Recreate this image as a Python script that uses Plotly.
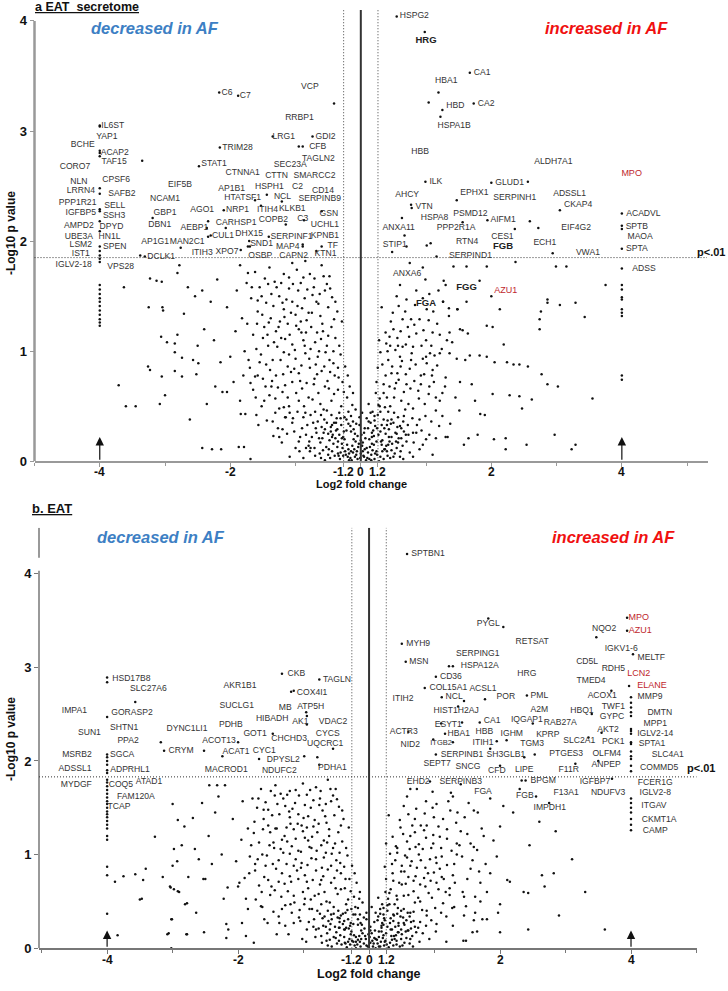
import plotly.graph_objects as go

FONT = "Liberation Sans, Arial, sans-serif"
T = 0.263  # log2(1.2): position of the +-1.2 fold-change threshold

# ================= panel a : EAT secretome =================
a_labels = [
    ("IL6ST", -3.80, 3.05), ("YAP1", -3.89, 2.95), ("BCHE", -4.26, 2.87), ("ACAP2", -3.77, 2.80),
    ("TAF15", -3.78, 2.72), ("CORO7", -4.38, 2.67), ("CPSF6", -3.75, 2.56), ("NLN", -4.32, 2.54),
    ("LRRN4", -4.29, 2.46), ("SAFB2", -3.66, 2.43), ("PPP1R21", -4.34, 2.35), ("SELL", -3.77, 2.32),
    ("IGFBP5", -4.29, 2.26), ("SSH3", -3.78, 2.23), ("AMPD2", -4.32, 2.14), ("DPYD", -3.82, 2.13),
    ("UBE3A", -4.32, 2.04), ("HN1L", -3.85, 2.04), ("LSM2", -4.29, 1.965), ("SPEN", -3.77, 1.95),
    ("IST1", -4.29, 1.885), ("IGLV2-18", -4.40, 1.78), ("VPS28", -3.68, 1.77),
    ("EIF5B", -2.77, 2.51), ("NCAM1", -3.00, 2.38), ("GBP1", -3.00, 2.26), ("DBN1", -3.08, 2.15),
    ("AP1G1", -3.15, 1.99), ("DCLK1", -3.06, 1.86), ("MAN2C1", -2.66, 1.99), ("AGO1", -2.43, 2.28),
    ("AEBP1", -2.55, 2.12), ("ITIH3", -2.43, 1.89), ("STAT1", -2.25, 2.70), ("C6", -2.05, 3.35),
    ("C7", -1.77, 3.32), ("VCP", -0.78, 3.40), ("RRBP1", -0.94, 3.12), ("LRG1", -1.18, 2.95),
    ("GDI2", -0.54, 2.95), ("CFB", -0.66, 2.86), ("TRIM28", -1.89, 2.85), ("TAGLN2", -0.65, 2.75),
    ("SEC23A", -1.08, 2.69), ("CTNNA1", -1.81, 2.62), ("CTTN", -1.29, 2.59), ("SMARCC2", -0.71, 2.59),
    ("AP1B1", -1.98, 2.47), ("HSPH1", -1.40, 2.49), ("C2", -0.97, 2.49), ("CD14", -0.58, 2.46),
    ("HTATSF1", -1.81, 2.39), ("NCL", -1.20, 2.40), ("SERPINB9", -0.63, 2.38), ("NRP1", -1.89, 2.28),
    ("ITIH4", -1.43, 2.28), ("KLKB1", -1.05, 2.29), ("GSN", -0.49, 2.25), ("CARHSP1", -1.91, 2.17),
    ("COPB2", -1.34, 2.19), ("C3", -0.89, 2.20), ("UCHL1", -0.55, 2.15), ("CUL1", -2.11, 2.05),
    ("DHX15", -1.71, 2.07), ("SERPINF1", -1.06, 2.035), ("KPNB1", -0.55, 2.05), ("SND1", -1.52, 1.975),
    ("MAP4", -1.12, 1.945), ("TF", -0.43, 1.96), ("XPO7", -2.05, 1.90), ("OSBP", -1.54, 1.87),
    ("CAPN2", -1.03, 1.87), ("KTN1", -0.54, 1.88),
    ("HSPG2", 0.82, 4.05), ("HRG", 1.00, 3.82), ("CA1", 1.86, 3.53), ("HBA1", 1.31, 3.46),
    ("HBD", 1.45, 3.23), ("CA2", 1.92, 3.25), ("HSPA1B", 1.43, 3.05), ("HBB", 0.91, 2.81),
    ("ALDH7A1", 2.95, 2.72), ("MPO", 4.15, 2.61), ("ILK", 1.15, 2.54), ("GLUD1", 2.28, 2.53),
    ("AHCY", 0.71, 2.42), ("EPHX1", 1.74, 2.44), ("SERPINH1", 2.36, 2.39), ("ADSSL1", 3.20, 2.43),
    ("CKAP4", 3.33, 2.33), ("VTN", 0.97, 2.31), ("HSPA8", 1.13, 2.21), ("PSMD12", 1.68, 2.25),
    ("AIFM1", 2.18, 2.19), ("ACADVL", 4.33, 2.25), ("ANXA11", 0.58, 2.12), ("PPP2R1A", 1.46, 2.12),
    ("EIF4G2", 3.30, 2.12), ("SPTB", 4.23, 2.13), ("STIP1", 0.52, 1.97), ("RTN4", 1.63, 1.99),
    ("CES1", 2.17, 2.04), ("FGB", 2.18, 1.95), ("ECH1", 2.82, 1.98), ("MAOA", 4.28, 2.04),
    ("SPTA", 4.23, 1.93), ("VWA1", 3.48, 1.89), ("SERPIND1", 1.68, 1.87), ("ADSS", 4.34, 1.75),
    ("ANXA6", 0.71, 1.70), ("FGG", 1.62, 1.58), ("AZU1", 2.22, 1.55), ("FGA", 1.00, 1.43),
]
a_bold = ["HRG", "FGB", "FGG", "FGA"]
a_red = ["MPO", "AZU1"]

a_col_neg4 = [3.05, 3.04, 2.82, 2.80, 2.77, 2.48, 2.43, 2.29, 2.27, 2.18, 2.09, 1.95, 1.91, 1.87,
              1.84, 1.81, 1.60, 1.56, 1.52, 1.48, 1.45, 1.41, 1.37, 1.33, 1.29, 1.26, 1.23]
a_col_pos4 = [2.25, 2.14, 2.11, 1.93, 1.75, 1.60, 1.56, 1.49, 1.47, 1.38, 1.35, 1.32, 0.78, 0.74]
a_sig = [(-3.35, 2.73), (-3.19, 2.21), (-3.38, 1.87), (-3.31, 1.86), (-2.34, 2.18), (-2.36, 2.12),
         (-2.30, 2.05), (-2.48, 2.68), (-2.17, 3.35), (-1.88, 3.32), (-2.16, 2.85), (-0.41, 3.25),
         (-1.35, 2.95), (-0.74, 2.95), (-0.95, 2.86), (-0.89, 2.86), (-2.10, 2.28), (-1.84, 1.92),
         (-1.73, 1.95), (-1.71, 2.00), (-1.44, 2.42), (-1.21, 2.36), (-0.87, 2.19), (-0.60, 2.27),
         (-1.53, 2.32), (-1.41, 2.04), (-0.89, 1.97), (-0.89, 1.95), (-0.60, 1.95), (-0.68, 1.91),
         (-1.70, 1.95), (-2.76, 1.94), (-2.07, 2.12), (-2.34, 2.04), (-1.62, 2.37), (-1.15, 2.15),
         (0.55, 4.04), (0.98, 3.90), (1.67, 3.53), (1.19, 3.35), (1.25, 3.19), (1.22, 3.13),
         (1.73, 3.25), (1.04, 3.26), (0.99, 2.54), (2.00, 2.53), (2.56, 2.54), (1.47, 2.37),
         (0.78, 2.30), (0.77, 2.33), (1.94, 2.19), (2.59, 2.18), (2.72, 2.12), (2.36, 2.11),
         (3.05, 2.28), (2.94, 1.89), (1.56, 2.17), (1.01, 1.96), (1.07, 1.98), (0.67, 2.05),
         (0.70, 1.95), (0.63, 2.21), (0.48, 1.90), (1.16, 1.86)]
a_core = [(-0.05, 0.02), (0.04, 0.05), (-0.12, 0.08), (0.10, 0.03), (0.18, 0.10), (-0.20, 0.04),
          (0.25, 0.06), (-0.28, 0.12), (0.02, 0.14), (-0.08, 0.18), (0.13, 0.20), (0.32, 0.15),
          (-0.35, 0.07), (-0.42, 0.16), (0.40, 0.09), (0.47, 0.22), (-0.50, 0.25), (-0.15, 0.27),
          (0.06, 0.30), (0.22, 0.32), (-0.30, 0.33), (0.55, 0.12), (-0.58, 0.10), (0.62, 0.30),
          (-0.66, 0.36), (0.35, 0.38), (-0.02, 0.40), (-0.45, 0.42), (0.15, 0.44), (0.70, 0.18),
          (-0.75, 0.22), (0.08, 0.01), (-0.18, 0.01), (0.28, 0.00), (-0.32, 0.02), (0.45, 0.03),
          (-0.55, 0.01), (0.60, 0.04), (-0.10, 0.11), (0.20, 0.15), (-0.25, 0.20), (0.38, 0.25),
          (-0.38, 0.28), (0.50, 0.35), (-0.60, 0.31), (0.12, 0.36), (-0.22, 0.38), (0.26, 0.42),
          (-0.70, 0.05), (0.75, 0.08), (-0.05, 0.23), (0.03, 0.09), (-0.13, 0.14), (0.16, 0.06),
          (-0.40, 0.05), (0.33, 0.19), (-0.48, 0.19), (0.58, 0.21), (-0.80, 0.14), (0.85, 0.26),
          (-0.90, 0.30), (0.90, 0.11), (-0.02, 0.33), (0.42, 0.45), (-0.52, 0.46), (0.66, 0.41),
          (-0.85, 0.44), (-1.00, 0.12), (1.00, 0.20), (-1.05, 0.35), (-0.07, 0.06), (0.09, 0.12),
          (-0.16, 0.03), (0.21, 0.02), (-0.24, 0.09), (0.30, 0.04), (-0.36, 0.13), (0.37, 0.11),
          (-0.44, 0.09), (0.52, 0.07), (-0.62, 0.17), (0.64, 0.14), (-0.11, 0.29), (0.17, 0.26),
          (-0.33, 0.24), (0.43, 0.29), (-0.56, 0.38), (0.57, 0.40), (-0.19, 0.45), (0.29, 0.50),
          (0.00, 0.07), (-0.03, 0.16), (0.07, 0.21), (0.11, 0.08), (-0.09, 0.04), (-0.21, 0.15),
          (0.24, 0.18), (0.05, 0.26), (-0.27, 0.05), (0.35, 0.02), (-0.47, 0.03), (0.48, 0.16),
          (-0.68, 0.26), (0.72, 0.33), (-0.78, 0.09), (0.80, 0.04), (-0.95, 0.18), (0.95, 0.15),
          (-0.88, 0.03), (1.10, 0.06)]
a_left = [(-0.30, 0.50), (-0.45, 0.55), (-0.62, 0.52), (-0.80, 0.58), (-0.95, 0.55), (-1.10, 0.50),
          (-1.25, 0.48), (-0.35, 0.65), (-0.55, 0.68), (-0.72, 0.70), (-0.90, 0.66), (-1.05, 0.72),
          (-1.20, 0.63), (-1.40, 0.60), (-0.40, 0.78), (-0.60, 0.82), (-0.78, 0.85), (-0.95, 0.80),
          (-1.12, 0.86), (-1.30, 0.78), (-1.50, 0.75), (-0.48, 0.92), (-0.66, 0.95), (-0.85, 0.98),
          (-1.00, 0.93), (-1.18, 0.99), (-1.35, 0.92), (-1.55, 0.90), (-1.70, 0.85), (-0.52, 1.05),
          (-0.70, 1.08), (-0.88, 1.10), (-1.05, 1.06), (-1.22, 1.12), (-1.42, 1.05), (-1.60, 1.02),
          (-1.78, 1.00), (-0.58, 1.18), (-0.76, 1.22), (-0.95, 1.20), (-1.12, 1.25), (-1.30, 1.18),
          (-1.48, 1.22), (-1.65, 1.15), (-0.62, 1.32), (-0.80, 1.35), (-1.00, 1.33), (-1.18, 1.38),
          (-1.38, 1.30), (-1.58, 1.36), (-1.82, 1.30), (-0.68, 1.45), (-0.86, 1.48), (-1.05, 1.45),
          (-1.25, 1.50), (-1.45, 1.44), (-1.68, 1.48), (-0.72, 1.58), (-0.92, 1.62), (-1.10, 1.57),
          (-1.32, 1.63), (-1.55, 1.58), (-1.90, 1.55), (-0.78, 1.70), (-0.98, 1.74), (-1.18, 1.70),
          (-1.40, 1.76), (-1.62, 1.72), (-0.60, 1.78), (-0.85, 1.82), (-1.05, 1.80), (-0.25, 0.40),
          (-0.38, 0.35), (-0.70, 0.45), (-1.15, 0.40), (-1.35, 0.36), (-1.60, 0.42), (-1.85, 0.55),
          (-1.95, 0.72), (-2.00, 0.95), (-1.92, 1.18), (-2.05, 1.40), (-1.75, 1.62), (-0.50, 1.40),
          (-0.45, 1.22), (-0.42, 1.00), (-0.35, 0.85), (-0.28, 0.72), (-0.55, 1.55), (-0.48, 1.68),
          (-1.48, 0.55), (-1.65, 0.65), (-1.80, 0.78), (-0.88, 0.40), (-1.02, 0.27), (-1.25, 0.22),
          (-0.65, 0.62), (-0.97, 1.41), (-1.28, 1.04), (-1.69, 0.71), (-1.62, 0.77), (-1.37, 0.68),
          (-1.27, 0.30), (-1.20, 0.29), (-1.16, 0.40), (-1.09, 0.44), (-0.84, 0.12), (-0.77, 0.12),
          (-1.34, 0.23), (-1.09, 0.04), (-1.69, 0.02)]
a_right = [(0.30, 0.45), (0.45, 0.50), (0.62, 0.55), (0.80, 0.48), (0.98, 0.52), (1.15, 0.46),
           (0.35, 0.62), (0.52, 0.66), (0.70, 0.70), (0.88, 0.64), (1.05, 0.68), (1.25, 0.62),
           (1.45, 0.58), (0.38, 0.78), (0.56, 0.80), (0.75, 0.84), (0.92, 0.78), (1.10, 0.83),
           (1.30, 0.76), (1.52, 0.72), (0.42, 0.92), (0.60, 0.95), (0.78, 0.98), (0.95, 0.93),
           (1.13, 0.96), (1.36, 0.98), (1.60, 0.92), (0.45, 1.05), (0.64, 1.04), (0.80, 1.04),
           (1.00, 1.10), (1.21, 1.15), (1.40, 1.08), (0.38, 1.17), (0.50, 1.20), (0.72, 1.22),
           (0.90, 1.29), (1.10, 1.17), (1.35, 1.32), (1.52, 1.20), (0.49, 1.35), (0.64, 1.29),
           (0.77, 1.29), (1.01, 1.38), (1.26, 1.45), (1.48, 1.38), (1.56, 1.19), (0.55, 1.50),
           (0.70, 1.47), (0.85, 1.55), (1.05, 1.52), (1.30, 1.60), (1.62, 1.45), (0.60, 1.60),
           (0.99, 1.65), (1.27, 1.64), (0.95, 1.76), (0.75, 1.80), (1.42, 1.77), (1.62, 1.77),
           (0.25, 0.30), (0.40, 0.33), (0.65, 0.36), (0.90, 0.38), (1.20, 0.32), (0.55, 0.25),
           (0.80, 0.26), (1.05, 0.24), (1.30, 0.22), (0.32, 1.40), (0.28, 1.10), (0.26, 0.85),
           (1.37, 0.34), (1.51, 0.46), (1.15, 0.21), (1.33, 0.22), (1.58, 0.15), (1.65, 0.21),
           (1.79, 0.24), (0.57, 1.05), (0.44, 1.13), (1.47, 0.93), (1.36, 1.17), (1.21, 0.98),
           (1.06, 0.98)]
a_outer = [(-3.63, 1.58), (-3.23, 1.66), (-3.13, 1.64), (-3.05, 1.63), (-3.25, 1.40), (-3.04, 1.40),
           (-3.03, 1.37), (-2.71, 1.34), (-3.06, 1.13), (-2.97, 1.08), (-2.81, 1.15), (-2.85, 1.07),
           (-2.85, 0.99), (-2.74, 0.94), (-2.57, 0.92), (-2.49, 0.89), (-3.26, 0.86), (-3.23, 0.83),
           (-3.05, 0.77), (-2.85, 0.82), (-2.74, 0.77), (-2.52, 0.79), (-3.71, 0.69), (-3.00, 0.60),
           (-3.60, 0.50), (-3.45, 0.50), (-3.08, 0.52), (-2.62, 0.38), (-2.65, 1.58), (-2.54, 1.50),
           (-2.78, 1.78), (-2.81, 1.71), (-2.43, 0.12), (-2.28, 0.11), (-2.14, 0.11), (-1.87, 0.13),
           (-1.79, 0.13), (-2.36, 0.52), (-2.23, 0.68), (-2.12, 0.63), (-2.05, 0.63), (-1.84, 0.43),
           (-1.77, 0.43), (-1.52, 0.50), (-2.40, 1.20), (-2.30, 1.45), (-2.20, 1.65), (-2.50, 1.05),
           (-2.15, 0.90), (-2.25, 1.10), (-2.43, 1.55), (-1.85, 1.78), (-1.73, 1.71),
           (1.67, 0.96), (1.82, 0.96), (1.93, 0.95), (1.93, 1.23), (2.02, 1.22), (2.05, 0.90),
           (2.24, 0.90), (2.34, 0.88), (2.43, 0.88), (2.56, 0.86), (2.77, 0.79), (2.86, 0.70),
           (3.02, 0.68), (3.55, 0.57), (2.02, 0.61), (2.28, 0.60), (2.43, 0.59), (2.62, 0.56),
           (2.13, 1.38), (2.86, 1.47), (2.86, 1.44), (3.05, 1.42), (3.29, 1.44), (3.75, 1.60),
           (3.43, 1.31), (2.76, 1.36), (2.74, 1.29), (2.74, 1.20), (2.19, 1.06), (1.82, 1.64),
           (1.93, 1.77), (2.37, 1.81), (2.99, 1.77), (3.15, 1.77), (2.47, 0.48), (1.83, 0.43),
           (1.90, 0.42), (2.04, 0.20), (2.22, 0.21), (2.22, 0.11), (2.54, 0.15), (2.97, 0.24),
           (3.29, 0.15), (3.23, 0.11), (1.70, 0.70), (1.75, 0.55), (1.64, 1.16), (1.48, 1.38),
           (1.35, 1.39), (1.26, 1.45), (2.00, 1.50)]
a_fill = [(-0.21, 0.58), (-0.33, 0.44), (-0.41, 0.61), (-0.51, 0.73), (-0.57, 0.47), (-0.67, 0.79),
          (-0.74, 0.56), (-0.83, 0.71), (-0.91, 0.87), (-0.99, 0.62), (-1.07, 0.81), (-1.16, 0.69),
          (-1.23, 0.92), (-1.31, 0.57), (-1.39, 0.83), (-1.46, 0.68), (-1.53, 0.97), (-1.61, 0.58),
          (-0.24, 0.86), (-0.31, 0.97), (-0.39, 1.12), (-0.47, 0.81), (-0.54, 0.99), (-0.61, 1.11),
          (-0.69, 0.88), (-0.77, 1.02), (-0.84, 1.17), (-0.92, 1.27), (-1.01, 1.01), (-1.09, 1.15),
          (-1.17, 1.31), (-1.26, 1.22), (-1.34, 1.41), (-1.43, 1.15), (-1.51, 1.33), (-1.59, 1.25),
          (-0.29, 1.27), (-0.36, 1.36), (-0.44, 1.49), (-0.52, 1.61), (-0.63, 1.52), (-0.71, 1.66),
          (-0.82, 1.56), (-0.90, 1.39), (-1.04, 1.61), (-1.14, 1.47), (-1.22, 1.62), (-1.37, 1.52),
          (-1.47, 1.66), (-1.58, 1.46), (-0.27, 0.22), (-0.46, 0.31), (-0.64, 0.21), (-0.82, 0.33),
          (-0.97, 0.45), (-1.12, 0.58), (-1.21, 0.17), (-1.31, 0.44), (-1.44, 0.37), (-1.57, 0.33),
          (-0.13, 0.51), (-0.17, 0.68), (-0.19, 0.34), (-0.08, 0.47), (-0.35, 0.18), (-0.55, 0.29),
          (-0.73, 0.35), (-0.79, 0.18), (-0.94, 0.09), (-1.13, 0.25),
          (0.21, 0.41), (0.29, 0.57), (0.37, 0.49), (0.44, 0.68), (0.51, 0.58), (0.58, 0.74),
          (0.66, 0.63), (0.73, 0.52), (0.82, 0.73), (0.89, 0.57), (0.97, 0.79), (1.04, 0.61),
          (1.12, 0.72), (1.21, 0.55), (1.29, 0.68), (0.24, 0.72), (0.33, 0.88), (0.41, 1.00),
          (0.48, 0.86), (0.56, 1.12), (0.63, 0.91), (0.69, 1.06), (0.77, 0.92), (0.85, 1.16),
          (0.93, 1.05), (1.01, 0.89), (1.08, 1.05), (1.17, 1.25), (1.24, 1.02), (1.32, 1.10),
          (0.46, 1.27), (0.58, 1.41), (0.68, 1.36), (0.83, 1.42), (0.95, 1.48), (1.11, 1.36),
          (1.19, 1.55), (0.31, 0.18), (0.42, 0.15), (0.60, 0.32), (0.73, 0.24), (0.86, 0.33),
          (0.99, 0.41), (1.08, 0.36), (1.25, 0.41), (0.47, 0.38), (0.20, 0.23), (0.15, 0.35),
          (0.12, 0.52), (0.68, 0.47),
          (-0.06, 0.09), (0.03, 0.17), (-0.11, 0.20), (0.14, 0.13), (-0.19, 0.11), (0.19, 0.28),
          (-0.29, 0.16), (0.27, 0.24), (-0.39, 0.21), (0.36, 0.30), (-0.46, 0.27), (0.44, 0.18),
          (-0.53, 0.13), (0.53, 0.26), (-0.63, 0.07), (0.61, 0.09), (-0.01, 0.03), (0.05, 0.04),
          (-0.14, 0.01), (0.16, 0.01), (-0.23, 0.06), (0.24, 0.09), (-0.31, 0.08), (0.41, 0.05),
          (-0.50, 0.06), (0.50, 0.04), (0.01, 0.24), (-0.07, 0.34), (0.09, 0.39), (-0.16, 0.32),
          (0.21, 0.37), (-0.37, 0.39), (0.32, 0.33), (-0.44, 0.33), (0.56, 0.31), (-0.71, 0.12),
          (0.69, 0.24), (-0.59, 0.21), (0.81, 0.17), (-0.84, 0.24)]
a_fill2 = [(-0.26, 0.63), (-0.34, 0.76), (-0.42, 0.89), (-0.49, 0.66), (-0.56, 0.86), (-0.64, 1.00),
           (-0.71, 0.75), (-0.79, 0.93), (-0.86, 1.05), (-0.93, 0.73), (-1.02, 0.84), (-1.10, 0.97),
           (-1.19, 0.79), (-1.27, 0.67), (-1.36, 0.73), (-1.45, 0.88), (-0.33, 1.05), (-0.41, 1.29),
           (-0.50, 1.14), (-0.59, 1.25), (-0.67, 1.17), (-0.75, 1.35), (-0.83, 1.28), (-0.91, 1.17),
           (-0.99, 1.23), (-1.07, 1.35), (-1.16, 1.11), (-1.24, 1.27), (-1.33, 1.08), (-1.41, 1.26),
           (-1.50, 1.12), (-0.39, 1.45), (-0.47, 1.57), (-0.57, 1.68), (-0.65, 1.43), (-0.74, 1.51),
           (-0.88, 1.67), (-0.96, 1.55), (-1.10, 1.67), (-1.20, 1.44), (-1.29, 1.58), (-1.42, 1.61),
           (-1.52, 1.50), (-1.67, 1.58), (-1.74, 1.25), (-1.72, 0.92), (-1.58, 0.78), (-0.22, 0.28),
           (-0.31, 0.39), (-0.43, 0.24), (-0.52, 0.35), (-0.61, 0.42), (-0.69, 0.30), (-0.77, 0.42),
           (-0.87, 0.50), (-0.93, 0.22), (-1.04, 0.39), (-1.18, 0.49), (-0.15, 0.41), (-0.12, 0.62),
           (-0.20, 0.78),
           (0.18, 0.45), (0.23, 0.62), (0.27, 0.51), (0.35, 0.70), (0.40, 0.58), (0.47, 0.80),
           (0.54, 0.71), (0.61, 0.86), (0.69, 0.79), (0.76, 0.66), (0.84, 0.88), (0.92, 0.70),
           (1.00, 0.95), (1.09, 0.78), (1.17, 0.87), (0.30, 0.99), (0.39, 1.07), (0.53, 1.01),
           (0.61, 1.18), (0.74, 1.13), (0.82, 1.24), (0.96, 1.19), (1.04, 1.28), (0.43, 0.22),
           (0.51, 0.44), (0.57, 0.17), (0.66, 0.27), (0.79, 0.39), (0.93, 0.28), (1.15, 0.58),
           (0.36, 0.11), (0.17, 0.16),
           (-0.04, 0.13), (0.06, 0.11), (-0.09, 0.25), (0.11, 0.30), (-0.18, 0.07), (0.22, 0.07),
           (-0.26, 0.27), (0.30, 0.27), (-0.34, 0.05), (0.39, 0.14), (-0.41, 0.35), (0.46, 0.34),
           (-0.49, 0.11), (0.54, 0.18), (-0.57, 0.26), (0.62, 0.21), (0.00, 0.19), (-0.15, 0.09),
           (0.17, 0.22), (-0.29, 0.21), (0.33, 0.09), (-0.44, 0.22), (0.47, 0.10), (-0.61, 0.03),
           (0.65, 0.02), (-0.12, 0.36), (0.13, 0.02), (-0.36, 0.29), (0.41, 0.37), (0.02, 0.44)]

# ================= panel b : EAT =================
b_labels = [
    ("HSD17B8", -3.63, 2.88), ("SLC27A6", -3.37, 2.77), ("IMPA1", -4.50, 2.53), ("GORASP2", -3.62, 2.51),
    ("SUN1", -4.27, 2.30), ("SHTN1", -3.74, 2.35), ("PPA2", -3.68, 2.21), ("MSRB2", -4.46, 2.07),
    ("SGCA", -3.77, 2.07), ("ADSSL1", -4.49, 1.92), ("ADPRHL1", -3.65, 1.91), ("MYDGF", -4.47, 1.75),
    ("COQ5", -3.79, 1.74), ("ATAD1", -3.36, 1.78), ("FAM120A", -3.56, 1.62), ("TCAP", -3.82, 1.51),
    ("DYNC1LI1", -2.78, 2.34), ("CRYM", -2.87, 2.11), ("ACOT13", -2.29, 2.21), ("ACAT1", -2.03, 2.10),
    ("MACROD1", -2.18, 1.90), ("AKR1B1", -1.97, 2.80), ("SUCLG1", -2.02, 2.59), ("PDHB", -2.11, 2.39),
    ("GOT1", -1.74, 2.29), ("CYC1", -1.60, 2.11), ("DPYSL2", -1.31, 2.01), ("NDUFC2", -1.37, 1.89),
    ("CKB", -1.11, 2.93), ("TAGLN", -0.49, 2.87), ("COX4I1", -0.87, 2.73), ("MB", -1.28, 2.57),
    ("ATP5H", -0.89, 2.58), ("HIBADH", -1.48, 2.45), ("AK1", -1.05, 2.42), ("VDAC2", -0.55, 2.42),
    ("CHCHD3", -1.22, 2.24), ("CYCS", -0.63, 2.29), ("UQCRC1", -0.67, 2.18), ("PDHA1", -0.56, 1.93),
    ("SPTBN1", 0.90, 4.21), ("MYH9", 0.75, 3.25), ("MSN", 0.76, 3.06), ("ITIH2", 0.52, 2.66),
    ("ACTR3", 0.53, 2.31), ("NID2", 0.63, 2.17), ("EHD2", 0.75, 1.78), ("PYGL", 1.82, 3.46),
    ("NQO2", 3.59, 3.41), ("MPO", 4.12, 3.53), ("AZU1", 4.14, 3.39), ("RETSAT", 2.49, 3.27),
    ("IGKV1-6", 3.85, 3.20), ("SERPING1", 1.66, 3.14), ("MELTF", 4.31, 3.10), ("CD5L", 3.33, 3.06),
    ("HSPA12A", 1.69, 3.01), ("RDH5", 3.73, 2.98), ("LCN2", 4.12, 2.93), ("HRG", 2.41, 2.93),
    ("CD36", 1.25, 2.90), ("TMED4", 3.39, 2.85), ("ELANE", 4.32, 2.80), ("COL15A1", 1.21, 2.78),
    ("ACSL1", 1.74, 2.77), ("ACOX1", 3.56, 2.70), ("MMP9", 4.29, 2.68), ("NCL", 1.30, 2.68),
    ("POR", 2.09, 2.68), ("PML", 2.60, 2.70), ("TWF1", 3.73, 2.58), ("HIST1H2AJ", 1.33, 2.53),
    ("A2M", 2.60, 2.55), ("HBQ1", 3.25, 2.53), ("DMTN", 4.44, 2.51), ("GYPC", 3.71, 2.47),
    ("ESYT1", 1.21, 2.38), ("CA1", 1.88, 2.43), ("IQGAP1", 2.41, 2.44), ("RAB27A", 2.92, 2.41),
    ("MPP1", 4.37, 2.40), ("HBB", 1.76, 2.31), ("AKT2", 3.65, 2.33), ("HBA1", 1.37, 2.29),
    ("IGHM", 2.18, 2.29), ("KPRP", 2.73, 2.28), ("IGLV2-14", 4.37, 2.29), ("ITGB2", 1.10, 2.19),
    ("ITIH1", 1.74, 2.19), ("TGM3", 2.49, 2.18), ("SLC2A1", 3.21, 2.21), ("PCK1", 3.73, 2.20),
    ("SPTA1", 4.32, 2.18), ("SERPINB1", 1.42, 2.07), ("SH3GLB1", 2.09, 2.07), ("PTGES3", 3.01, 2.08),
    ("OLFM4", 3.63, 2.08), ("SLC4A1", 4.56, 2.06), ("SEPT7", 1.04, 1.97), ("SNCG", 1.51, 1.94),
    ("CFD", 1.95, 1.89), ("LIPE", 2.37, 1.91), ("F11R", 3.05, 1.90), ("ANPEP", 3.62, 1.96),
    ("COMMD5", 4.43, 1.93), ("SERPINB3", 1.40, 1.78), ("BPGM", 2.66, 1.79), ("IGFBP7", 3.45, 1.78),
    ("FCER1G", 4.37, 1.77), ("FGA", 1.74, 1.67), ("FGB", 2.38, 1.63), ("F13A1", 3.01, 1.66),
    ("NDUFV3", 3.65, 1.66), ("IGLV2-8", 4.37, 1.66), ("IMPDH1", 2.76, 1.50), ("ITGAV", 4.35, 1.52),
    ("CKMT1A", 4.43, 1.37), ("CAMP", 4.37, 1.25),
]
b_red = ["MPO", "AZU1", "LCN2", "ELANE"]
b_small = ["ITGB2"]

b_col_neg4 = [2.89, 2.84, 2.47, 2.07, 2.04, 2.00, 1.96, 1.90, 1.87, 1.80, 1.77, 1.73, 1.69, 1.65,
              1.61, 1.57, 1.54, 1.50, 1.46, 1.43, 1.40, 1.36, 1.32, 1.28, 1.20, 1.16, 0.87, 0.78, 0.37]
b_col_pos4 = [2.68, 2.62, 2.57, 2.52, 2.48, 2.34, 2.32, 2.29, 2.20, 2.18, 2.10, 2.05, 2.02, 1.95,
              1.89, 1.60, 1.55, 1.50, 1.45, 1.38, 1.32, 1.26]
b_sig = [(-3.57, 2.63), (-3.18, 2.20), (-3.13, 2.11), (-2.52, 2.11), (-2.44, 1.74), (-2.32, 1.74),
         (-2.20, 1.74), (-1.33, 2.93), (-0.76, 2.87), (-1.19, 2.74), (-1.15, 2.75), (-0.96, 2.52),
         (-0.95, 2.48), (-0.95, 2.39), (-1.47, 2.29), (-0.55, 2.13), (-1.68, 2.02), (-0.99, 2.05),
         (-0.79, 2.04), (-0.76, 1.96), (-2.24, 2.05), (-2.00, 2.20),
         (0.58, 4.21), (0.50, 3.25), (0.56, 3.06), (2.05, 3.43), (1.82, 3.52), (3.47, 3.32),
         (3.94, 3.53), (3.94, 3.39), (4.03, 3.14), (3.97, 2.80), (1.22, 3.01), (1.28, 3.01),
         (1.02, 2.90), (0.85, 2.78), (1.11, 2.68), (2.41, 2.70), (1.77, 2.66), (1.45, 2.64),
         (1.36, 2.58), (1.42, 2.41), (1.69, 2.41), (1.16, 2.29), (1.95, 2.21), (1.28, 2.20),
         (1.02, 2.07), (2.37, 2.04), (2.53, 2.07), (1.85, 2.13), (0.98, 2.23), (0.60, 2.31),
         (3.15, 1.97), (3.71, 1.81), (0.63, 1.70), (2.33, 1.79), (2.39, 1.79), (1.10, 2.40),
         (2.50, 2.40), (3.40, 2.50), (3.55, 2.30), (3.35, 2.25), (2.10, 2.22), (2.00, 1.95),
         (3.50, 2.00), (3.70, 2.75)]
b_core = [(-0.04, 0.03), (0.06, 0.02), (-0.14, 0.07), (0.13, 0.05), (0.21, 0.11), (-0.22, 0.03),
          (0.27, 0.04), (-0.30, 0.10), (0.01, 0.12), (-0.10, 0.16), (0.15, 0.18), (0.34, 0.13),
          (-0.37, 0.06), (-0.44, 0.14), (0.42, 0.08), (0.49, 0.20), (-0.52, 0.23), (-0.17, 0.25),
          (0.08, 0.28), (0.24, 0.30), (-0.32, 0.31), (0.57, 0.11), (-0.60, 0.09), (0.64, 0.28),
          (-0.68, 0.34), (0.37, 0.36), (-0.04, 0.38), (-0.47, 0.40), (0.17, 0.42), (0.72, 0.17),
          (-0.77, 0.21), (0.10, 0.00), (-0.20, 0.00), (0.30, 0.01), (-0.34, 0.01), (0.47, 0.02),
          (-0.57, 0.02), (0.62, 0.05), (-0.12, 0.10), (0.22, 0.14), (-0.27, 0.18), (0.40, 0.23),
          (-0.40, 0.26), (0.52, 0.33), (-0.62, 0.29), (0.14, 0.34), (-0.24, 0.36), (0.28, 0.40),
          (-0.72, 0.06), (0.77, 0.07), (-0.07, 0.21), (0.05, 0.08), (-0.15, 0.13), (0.18, 0.07),
          (-0.42, 0.04), (0.35, 0.20), (-0.50, 0.17), (0.60, 0.19), (-0.82, 0.12), (0.87, 0.24),
          (-0.92, 0.28), (0.92, 0.10), (-0.04, 0.31), (0.44, 0.43), (-0.54, 0.44), (0.68, 0.39),
          (-0.87, 0.42), (-1.02, 0.10), (1.02, 0.18), (-1.07, 0.33), (-0.08, 0.05), (0.10, 0.10),
          (-0.18, 0.04), (0.23, 0.03), (-0.26, 0.08), (0.32, 0.06), (-0.38, 0.12), (0.39, 0.10),
          (-0.46, 0.08), (0.54, 0.06), (-0.64, 0.16), (0.66, 0.13), (-0.13, 0.27), (0.19, 0.24),
          (-0.35, 0.22), (0.45, 0.27), (-0.58, 0.36), (0.59, 0.38), (-0.21, 0.44), (0.31, 0.47),
          (0.02, 0.06), (-0.01, 0.15), (0.09, 0.19), (0.12, 0.09), (-0.23, 0.14), (0.26, 0.16),
          (-0.29, 0.04), (0.37, 0.03), (0.50, 0.15), (-0.70, 0.24)]
b_left = [(-0.32, 0.52), (-0.48, 0.58), (-0.65, 0.50), (-0.83, 0.56), (-0.98, 0.53), (-1.14, 0.49),
          (-1.28, 0.46), (-0.37, 0.64), (-0.58, 0.70), (-0.75, 0.68), (-0.93, 0.64), (-1.08, 0.74),
          (-1.24, 0.61), (-1.44, 0.62), (-0.43, 0.80), (-0.63, 0.84), (-0.81, 0.83), (-0.98, 0.78),
          (-1.15, 0.88), (-1.33, 0.80), (-1.54, 0.73), (-0.50, 0.94), (-0.69, 0.97), (-0.88, 0.96),
          (-1.03, 0.91), (-1.21, 1.01), (-1.38, 0.94), (-1.58, 0.88), (-1.74, 0.83), (-0.55, 1.07),
          (-0.73, 1.10), (-0.91, 1.08), (-1.08, 1.04), (-1.25, 1.14), (-1.45, 1.07), (-1.63, 1.00),
          (-1.82, 0.98), (-0.61, 1.20), (-0.79, 1.24), (-0.98, 1.18), (-1.15, 1.27), (-1.33, 1.16),
          (-1.51, 1.24), (-1.68, 1.13), (-0.65, 1.34), (-0.83, 1.37), (-1.03, 1.31), (-1.21, 1.40),
          (-1.41, 1.28), (-1.61, 1.38), (-1.85, 1.28), (-0.71, 1.47), (-0.89, 1.50), (-1.08, 1.43),
          (-1.28, 1.52), (-1.48, 1.42), (-1.71, 1.50), (-0.75, 1.60), (-0.95, 1.64), (-1.13, 1.55),
          (-1.35, 1.65), (-1.58, 1.56), (-1.93, 1.57), (-0.81, 1.72), (-1.01, 1.76), (-1.21, 1.68),
          (-1.43, 1.74), (-1.65, 1.70), (-0.63, 1.80), (-0.27, 0.42), (-0.40, 0.37), (-0.73, 0.47),
          (-1.18, 0.38), (-1.38, 0.34), (-1.63, 0.44), (-1.88, 0.53), (-1.98, 0.70), (-2.03, 0.93),
          (-1.95, 1.16), (-2.08, 1.38), (-1.78, 1.60), (-0.53, 1.42), (-0.47, 1.24), (-0.45, 1.02),
          (-0.38, 0.87), (-0.30, 0.74), (-0.58, 1.57), (-0.51, 1.70), (-1.51, 0.57), (-1.68, 0.67),
          (-1.83, 0.80), (-0.91, 0.42), (-1.05, 0.29), (-1.28, 0.24), (-0.68, 0.60), (-1.00, 1.39),
          (-1.31, 1.02), (-2.00, 0.66), (-1.73, 0.52), (-1.65, 0.45), (-1.55, 0.27), (-1.41, 0.15),
          (-1.37, 0.27), (-1.94, 0.27), (-1.88, 0.13), (-1.76, 0.06), (-2.16, 0.65), (-2.22, 0.53),
          (-2.18, 0.26), (-2.15, 0.20), (-2.18, 0.11)]
b_right = [(0.28, 0.46), (0.43, 0.52), (0.60, 0.57), (0.78, 0.50), (0.96, 0.54), (1.13, 0.48),
           (1.30, 0.44), (0.33, 0.63), (0.50, 0.68), (0.68, 0.72), (0.86, 0.66), (1.03, 0.70),
           (1.23, 0.64), (1.43, 0.60), (1.62, 0.55), (0.36, 0.80), (0.54, 0.82), (0.73, 0.86),
           (0.90, 0.80), (1.08, 0.85), (1.28, 0.78), (1.50, 0.74), (1.70, 0.70), (0.40, 0.94),
           (0.58, 0.97), (0.76, 1.00), (0.93, 0.95), (1.11, 0.98), (1.34, 1.00), (1.58, 0.94),
           (1.78, 0.90), (0.43, 1.07), (0.62, 1.06), (0.82, 1.06), (0.98, 1.12), (1.19, 1.17),
           (1.38, 1.10), (1.60, 1.08), (0.36, 1.19), (0.52, 1.22), (0.70, 1.24), (0.88, 1.31),
           (1.08, 1.19), (1.33, 1.34), (1.50, 1.22), (1.72, 1.28), (0.47, 1.37), (0.66, 1.31),
           (0.79, 1.31), (0.99, 1.40), (1.24, 1.47), (1.46, 1.40), (1.66, 1.45), (0.53, 1.52),
           (0.72, 1.49), (0.87, 1.57), (1.03, 1.54), (1.28, 1.62), (1.60, 1.47), (0.58, 1.62),
           (0.97, 1.67), (1.25, 1.66), (0.93, 1.78), (0.73, 1.70), (1.40, 1.75), (1.85, 1.60),
           (2.05, 1.52), (2.20, 1.45), (0.23, 0.32), (0.38, 0.35), (0.63, 0.38), (0.88, 0.40),
           (1.18, 0.34), (0.53, 0.27), (0.78, 0.28), (1.03, 0.26), (1.28, 0.24), (0.30, 1.42),
           (0.26, 1.12), (0.24, 0.87), (1.90, 1.15), (2.00, 1.30), (1.95, 0.98), (1.85, 0.80),
           (1.45, 0.35), (1.60, 0.30), (2.11, 0.73), (2.15, 0.71), (2.68, 0.66), (2.36, 0.60),
           (2.43, 0.59), (2.00, 0.47), (1.97, 0.38), (1.73, 0.31), (1.80, 0.31), (2.43, 0.20),
           (2.00, 0.17), (1.58, 0.17), (1.65, 0.18), (1.44, 0.08), (1.48, 0.08), (1.18, 0.07),
           (2.82, 0.80), (2.64, 0.78), (2.45, 1.10), (2.60, 1.35), (2.75, 1.55), (2.30, 1.70),
           (2.55, 1.62), (2.85, 1.25), (3.10, 0.95), (3.30, 0.60), (2.90, 0.35), (3.60, 0.20)]
b_outer = [(-3.84, 0.14), (-3.47, 0.53), (-3.03, 0.65), (-2.92, 0.61), (-3.01, 0.31), (-3.06, 0.16),
           (-2.78, 0.15), (-2.52, 0.17), (-2.78, 0.48), (-2.64, 0.38), (-2.53, 0.74), (-2.50, 0.74),
           (-3.27, 1.19), (-3.00, 1.54), (-2.92, 1.37), (-2.82, 1.30), (-2.69, 1.39), (-2.86, 1.10),
           (-2.98, 1.06), (-2.66, 1.06), (-2.93, 0.93), (-3.00, 0.88), (-3.88, 0.71), (-3.75, 0.77),
           (-3.57, 0.79), (-3.45, 0.73), (-3.41, 0.85), (-3.15, 0.76), (-3.04, 0.66), (-2.98, 0.63),
           (-2.90, 0.60), (-2.76, 0.76), (-3.50, 0.52), (-2.81, 0.47), (-3.02, 0.31), (-3.08, 0.15),
           (-2.79, 0.15), (-3.02, 0.00), (-2.45, 1.20), (-2.35, 1.45), (-2.25, 1.00), (-2.40, 0.90),
           (-2.55, 1.55), (-2.30, 1.62), (-2.60, 0.95)]
b_fill = [(-0.23, 0.55), (-0.35, 0.47), (-0.43, 0.63), (-0.53, 0.75), (-0.60, 0.49), (-0.70, 0.77),
          (-0.77, 0.58), (-0.86, 0.73), (-0.94, 0.89), (-1.01, 0.60), (-1.10, 0.83), (-1.19, 0.71),
          (-1.26, 0.90), (-1.34, 0.55), (-1.42, 0.85), (-1.49, 0.66), (-1.56, 0.99), (-1.64, 0.60),
          (-0.26, 0.88), (-0.33, 0.99), (-0.41, 1.14), (-0.49, 0.83), (-0.57, 1.01), (-0.64, 1.13),
          (-0.72, 0.86), (-0.80, 1.04), (-0.87, 1.19), (-0.95, 1.29), (-1.04, 1.03), (-1.12, 1.17),
          (-1.20, 1.33), (-1.29, 1.20), (-1.37, 1.43), (-1.46, 1.13), (-1.54, 1.31), (-1.62, 1.27),
          (-0.31, 1.29), (-0.39, 1.38), (-0.46, 1.51), (-0.55, 1.63), (-0.66, 1.54), (-0.74, 1.68),
          (-0.85, 1.58), (-0.93, 1.41), (-1.07, 1.63), (-1.17, 1.49), (-1.25, 1.64), (-1.40, 1.54),
          (-1.50, 1.68), (-1.61, 1.48), (-0.29, 0.24), (-0.48, 0.33), (-0.66, 0.23), (-0.84, 0.31),
          (-0.99, 0.47), (-1.15, 0.56), (-1.23, 0.15), (-1.33, 0.42), (-1.46, 0.39), (-1.60, 0.31),
          (-0.15, 0.53), (-0.19, 0.70), (-0.21, 0.36), (-0.10, 0.49), (-0.37, 0.20), (-0.57, 0.31),
          (-0.75, 0.37), (-0.81, 0.20), (-0.96, 0.07), (-1.15, 0.27), (-1.70, 0.95), (-1.80, 1.10),
          (-1.75, 1.35), (-1.90, 0.75), (-1.85, 0.42),
          (0.22, 0.43), (0.31, 0.59), (0.39, 0.47), (0.46, 0.70), (0.53, 0.56), (0.60, 0.76),
          (0.68, 0.61), (0.75, 0.54), (0.84, 0.75), (0.91, 0.59), (0.99, 0.81), (1.06, 0.63),
          (1.14, 0.74), (1.23, 0.57), (1.31, 0.70), (0.26, 0.74), (0.35, 0.90), (0.43, 1.02),
          (0.50, 0.88), (0.58, 1.14), (0.65, 0.93), (0.71, 1.08), (0.79, 0.94), (0.87, 1.18),
          (0.95, 1.07), (1.03, 0.91), (1.10, 1.07), (1.19, 1.27), (1.26, 1.04), (1.34, 1.12),
          (0.48, 1.29), (0.60, 1.43), (0.70, 1.38), (0.85, 1.44), (0.97, 1.50), (1.13, 1.38),
          (1.21, 1.57), (0.33, 0.20), (0.44, 0.17), (0.62, 0.34), (0.75, 0.22), (0.88, 0.35),
          (1.01, 0.43), (1.10, 0.38), (1.27, 0.43), (0.49, 0.40), (0.22, 0.25), (0.17, 0.37),
          (0.14, 0.54), (0.70, 0.49), (1.45, 0.55), (1.55, 0.85), (1.65, 1.05), (1.70, 0.50),
          (1.40, 1.25), (1.52, 1.55), (1.75, 1.20), (1.80, 0.60), (1.62, 0.38),
          (-0.05, 0.10), (0.04, 0.16), (-0.12, 0.19), (0.15, 0.12), (-0.20, 0.12), (0.20, 0.27),
          (-0.28, 0.15), (0.28, 0.23), (-0.38, 0.20), (0.37, 0.29), (-0.45, 0.28), (0.45, 0.17),
          (-0.54, 0.12), (0.54, 0.25), (-0.65, 0.08), (0.63, 0.10), (-0.02, 0.02), (0.07, 0.05),
          (-0.13, 0.02), (0.17, 0.02), (-0.24, 0.07), (0.25, 0.08), (-0.32, 0.07), (0.42, 0.04),
          (-0.49, 0.05), (0.51, 0.03), (0.02, 0.23), (-0.08, 0.33), (0.10, 0.38), (-0.17, 0.31),
          (0.22, 0.36), (-0.36, 0.38), (0.33, 0.32), (-0.45, 0.32), (0.57, 0.30), (-0.73, 0.13),
          (0.70, 0.23), (-0.60, 0.20), (0.82, 0.16), (-0.85, 0.23)]
b_fill2 = [(-0.28, 0.61), (-0.36, 0.74), (-0.44, 0.91), (-0.51, 0.64), (-0.58, 0.88), (-0.66, 1.02),
           (-0.73, 0.73), (-0.81, 0.95), (-0.88, 1.07), (-0.95, 0.71), (-1.04, 0.86), (-1.12, 0.95),
           (-1.21, 0.77), (-1.29, 0.69), (-1.38, 0.71), (-1.47, 0.90), (-0.35, 1.07), (-0.43, 1.31),
           (-0.52, 1.12), (-0.61, 1.27), (-0.69, 1.15), (-0.77, 1.33), (-0.85, 1.30), (-0.93, 1.15),
           (-1.01, 1.25), (-1.09, 1.33), (-1.18, 1.09), (-1.26, 1.29), (-1.35, 1.06), (-1.43, 1.28),
           (-1.52, 1.10), (-0.41, 1.47), (-0.49, 1.59), (-0.59, 1.70), (-0.67, 1.41), (-0.76, 1.53),
           (-0.90, 1.69), (-0.98, 1.53), (-1.12, 1.69), (-1.22, 1.46), (-1.31, 1.60), (-1.44, 1.63),
           (-1.54, 1.48), (-1.69, 1.60), (-1.76, 1.23), (-1.74, 0.90), (-1.60, 0.76), (-0.24, 0.26),
           (-0.33, 0.41), (-0.45, 0.22), (-0.54, 0.37), (-0.63, 0.40), (-0.71, 0.32), (-0.79, 0.40),
           (-0.89, 0.52), (-0.95, 0.20), (-1.06, 0.41), (-1.20, 0.47), (-0.17, 0.43), (-0.14, 0.60),
           (-0.22, 0.80),
           (0.20, 0.47), (0.25, 0.60), (0.29, 0.53), (0.37, 0.72), (0.42, 0.56), (0.49, 0.82),
           (0.56, 0.69), (0.63, 0.88), (0.71, 0.77), (0.78, 0.68), (0.86, 0.86), (0.94, 0.72),
           (1.02, 0.97), (1.11, 0.76), (1.19, 0.89), (0.32, 1.01), (0.41, 1.09), (0.55, 0.99),
           (0.63, 1.20), (0.76, 1.11), (0.84, 1.26), (0.98, 1.21), (1.06, 1.30), (0.45, 0.24),
           (0.53, 0.42), (0.59, 0.19), (0.68, 0.29), (0.81, 0.41), (0.95, 0.30), (1.17, 0.60),
           (0.38, 0.13), (0.19, 0.18), (1.30, 0.90), (1.42, 0.98), (1.55, 1.12), (1.35, 1.45),
           (1.48, 0.45), (1.68, 0.82),
           (-0.06, 0.13), (0.08, 0.11), (-0.11, 0.25), (0.13, 0.30), (-0.20, 0.07), (0.24, 0.07),
           (-0.28, 0.27), (0.32, 0.27), (-0.36, 0.05), (0.41, 0.14), (-0.43, 0.35), (0.48, 0.34),
           (-0.51, 0.11), (0.56, 0.18), (-0.59, 0.26), (0.64, 0.21), (0.02, 0.19), (-0.17, 0.09),
           (0.19, 0.22), (-0.31, 0.21), (0.35, 0.09), (-0.46, 0.22), (0.49, 0.10), (-0.63, 0.03),
           (0.67, 0.02), (-0.14, 0.36), (0.15, 0.02), (-0.38, 0.29), (0.43, 0.37), (0.04, 0.44)]

tickvals = [-4, -2, -T, 0, T, 2, 4]
ticktext = ["-4", "-2", "-1.2", "0", "1.2", "2", "4"]


def unzip(pts):
    return [p[0] for p in pts], [p[1] for p in pts]


fig = go.Figure()

panels = [
    dict(xa="x", ya="y", labels=a_labels, bold=a_bold, red=a_red, small=[],
         neg=a_col_neg4, pos=a_col_pos4,
         clouds=[a_sig, a_core, a_left, a_right, a_outer, a_fill, a_fill2]),
    dict(xa="x2", ya="y2", labels=b_labels, bold=[], red=b_red, small=b_small,
         neg=b_col_neg4, pos=b_col_pos4,
         clouds=[b_sig, b_core, b_left, b_right, b_outer, b_fill, b_fill2]),
]

for p in panels:
    xs, ys = [], []
    for c in p["clouds"]:
        cx, cy = unzip(c)
        xs += cx
        ys += cy
    xs += [-4] * len(p["neg"]) + [4] * len(p["pos"])
    ys += p["neg"] + p["pos"]
    fig.add_trace(go.Scatter(x=xs, y=ys, mode="markers", xaxis=p["xa"], yaxis=p["ya"],
                             marker=dict(size=2.5, color="#111"), showlegend=False,
                             hoverinfo="skip", cliponaxis=False))
    groups = {"normal": [], "bold": [], "red": [], "small": []}
    for name, lx, ly in p["labels"]:
        if name in p["red"]:
            groups["red"].append((name, lx, ly))
        elif name in p["bold"]:
            groups["bold"].append((name, lx, ly))
        elif name in p["small"]:
            groups["small"].append((name, lx, ly))
        else:
            groups["normal"].append((name, lx, ly))
    styles = {"normal": dict(size=8.6, color="#333"),
              "bold": dict(size=9.5, color="#222", weight="bold"),
              "red": dict(size=9, color="#c0272d"),
              "small": dict(size=7.5, color="#333")}
    for g, items in groups.items():
        if not items:
            continue
        fig.add_trace(go.Scatter(x=[i[1] for i in items], y=[i[2] for i in items],
                                 text=[i[0] for i in items], mode="text",
                                 textposition="middle center",
                                 textfont=dict(family=FONT, **styles[g]),
                                 xaxis=p["xa"], yaxis=p["ya"], showlegend=False,
                                 hoverinfo="skip", cliponaxis=False))

# axes geometry (fractions of the 728 x 991 canvas)
A_XD = [34.5 / 728, 708 / 728]
A_YD = [(991 - 465) / 991, (991 - 10) / 991]
A_XR = [-5.0, 5.32]
A_YR = [0, 4.1]
B_XD = [39 / 728, 696.5 / 728]
B_YD = [(991 - 956) / 991, (991 - 532) / 991]
B_XR = [-5.04, 5.0]
B_YR = [0, 4.49]


def xaxis(domain, rng, anchor, lw, lc):
    return dict(domain=domain, range=rng, anchor=anchor, tickvals=tickvals, ticktext=ticktext,
                showticklabels=False, ticks="outside", ticklen=4, tickcolor=lc, tickwidth=1,
                showline=True, linecolor=lc, linewidth=lw, zeroline=False, showgrid=False,
                minor=dict(tickvals=[-5, -3, -1, 1, 3, 5], ticks="outside", ticklen=3,
                           tickcolor=lc))


def yaxis(domain, rng, anchor, lc):
    return dict(domain=domain, range=rng, anchor=anchor, tickvals=[0, 1, 2, 3, 4],
                ticks="outside", ticklen=4, tickcolor=lc, showline=False, zeroline=False,
                showgrid=False, tickfont=dict(family=FONT, size=13, color="#111", weight="bold"))


DOT = "1px,2px"
shapes = [
    dict(type="line", xref="paper", yref="y", x0=A_XD[0], x1=A_XD[0], y0=0, y1=4.0,
         line=dict(color="#999", width=2.5)),
    dict(type="line", xref="x", yref="y", x0=0, x1=0, y0=0, y1=4.1, line=dict(color="#333", width=2)),
    dict(type="line", xref="x", yref="y", x0=-T, x1=-T, y0=0, y1=4.1,
         line=dict(color="#444", width=1, dash=DOT)),
    dict(type="line", xref="x", yref="y", x0=T, x1=T, y0=0, y1=4.1,
         line=dict(color="#444", width=1, dash=DOT)),
    dict(type="line", xref="paper", yref="y", x0=A_XD[0], x1=707 / 728, y0=1.85, y1=1.85,
         line=dict(color="#333", width=1, dash=DOT)),
    dict(type="line", xref="paper", yref="y2", x0=B_XD[0], x1=B_XD[0], y0=0, y1=4.03,
         line=dict(color="#777", width=1.5)),
    dict(type="line", xref="paper", yref="y2", x0=B_XD[0], x1=B_XD[0], y0=4.17, y1=4.49,
         line=dict(color="#777", width=1.5)),
    dict(type="line", xref="x2", yref="y2", x0=0, x1=0, y0=0, y1=4.49,
         line=dict(color="#333", width=2)),
    dict(type="line", xref="x2", yref="y2", x0=-T, x1=-T, y0=0, y1=4.49,
         line=dict(color="#444", width=1, dash=DOT)),
    dict(type="line", xref="x2", yref="y2", x0=T, x1=T, y0=0, y1=4.49,
         line=dict(color="#444", width=1, dash=DOT)),
    dict(type="line", xref="paper", yref="y2", x0=B_XD[0], x1=B_XD[1], y0=1.83, y1=1.83,
         line=dict(color="#333", width=1, dash=DOT)),
]

ann = []


def txt(text, x, y, size, color="#111", weight="bold", style="normal", xanchor="center",
        textangle=0, xref="paper"):
    ann.append(dict(text=text, x=x, y=y, xref=xref, yref="paper", showarrow=False,
                    xanchor=xanchor, yanchor="middle", textangle=textangle,
                    font=dict(family=FONT, size=size, color=color, weight=weight, style=style)))


# tick labels of the x axes
for xr, ypx in (("x", 476), ("x2", 968)):
    for v, t in zip(tickvals, ticktext):
        txt(t, v, (991 - ypx) / 991, 12, xref=xr)

txt("<u>a EAT\u00a0 secretome</u>", 33 / 728, (991 - 7) / 991, 12.5, xanchor="left")
txt("<u>b. EAT</u>", 30 / 728, (991 - 513) / 991, 13, xanchor="left")
txt("decreased in AF", 155 / 728, (991 - 28) / 991, 16.5, color="#3d7fc4", style="italic")
txt("increased in AF", 606 / 728, (991 - 28) / 991, 16.5, color="#f01010", style="italic")
txt("decreased in AF", 161 / 728, (991 - 541) / 991, 16.5, color="#3d7fc4", style="italic")
txt("increased in AF", 613 / 728, (991 - 541) / 991, 16.5, color="#f01010", style="italic")
txt("p<.01", 727 / 728, (991 - 254) / 991, 11, xanchor="right")
txt("p<.01", 717 / 728, (991 - 774) / 991, 11, xanchor="right")
txt("Log2 fold change", 361 / 728, (991 - 488) / 991, 11)
txt("Log2 fold change", 369 / 728, (991 - 982) / 991, 12.5)
txt("-Log10 p value", 11 / 728, (991 - 235) / 991, 12, textangle=-90)
txt("-Log10 p value", 11 / 728, (991 - 745) / 991, 12, textangle=-90)

for xr, yr, tip in (("x", "y", 0.22), ("x2", "y2", 0.19)):
    for xv in (-4, 4):
        ann.append(dict(text="", x=xv, y=tip, ax=xv, ay=0, xref=xr, yref=yr, axref=xr, ayref=yr,
                        showarrow=True, arrowhead=2, arrowsize=1.4, arrowwidth=1.2,
                        arrowcolor="#111"))

fig.update_layout(
    width=728, height=991, margin=dict(l=0, r=0, t=0, b=0),
    paper_bgcolor="white", plot_bgcolor="white", showlegend=False,
    xaxis=xaxis(A_XD, A_XR, "y", 2, "#999"),
    yaxis=yaxis(A_YD, A_YR, "x", "#999"),
    xaxis2=xaxis(B_XD, B_XR, "y2", 1.5, "#777"),
    yaxis2=yaxis(B_YD, B_YR, "x2", "#777"),
    shapes=shapes, annotations=ann,
)

fig.write_html("out.html", config={"displayModeBar": False},
               post_script="document.body.style.margin='0';document.body.style.overflow='hidden';")
